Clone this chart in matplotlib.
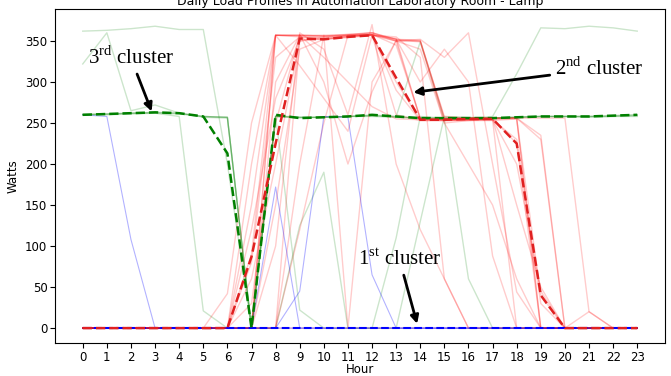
import numpy as np
import matplotlib
matplotlib.use("Agg")
import matplotlib.pyplot as plt

plt.rcParams['mathtext.fontset'] = 'custom'
plt.rcParams['mathtext.rm'] = 'Liberation Serif'

# Stunden
hours = list(range(24))

# 1. Cluster (blau)
blue_lines = [
    [260, 258, 108, 0, 0, 0, 0, 0, 0, 0, 0, 0, 0, 0, 0, 0, 0, 0, 0, 0, 0, 0, 0, 0],
    [0, 0, 0, 0, 0, 0, 0, 0, 0, 45, 258, 257, 65, 0, 0, 0, 0, 0, 0, 0, 0, 0, 0, 0],
    [0, 0, 0, 0, 0, 0, 0, 0, 172, 0, 0, 0, 0, 0, 0, 0, 0, 0, 0, 0, 0, 0, 0, 0],
]
blue_center = [0] * 24

# 2. Cluster (rot)
red_lines = [
    [0, 0, 0, 0, 0, 0, 42, 250, 357, 356, 356, 358, 360, 352, 350, 256, 256, 256, 256, 230, 0, 0, 0, 0],
    [0, 0, 0, 0, 0, 0, 0, 0, 357, 357, 357, 358, 360, 350, 350, 258, 256, 256, 256, 235, 0, 0, 0, 0],
    [0, 0, 0, 0, 0, 0, 0, 0, 357, 355, 354, 357, 358, 345, 256, 254, 254, 255, 256, 0, 0, 0, 0, 0],
    [0, 0, 0, 0, 0, 0, 0, 120, 280, 352, 352, 356, 357, 300, 254, 254, 255, 255, 255, 40, 0, 0, 0, 0],
    [0, 0, 0, 0, 0, 0, 0, 60, 200, 350, 353, 355, 358, 290, 253, 253, 254, 254, 200, 45, 0, 0, 0, 0],
    [0, 0, 0, 0, 0, 0, 0, 0, 150, 340, 352, 354, 357, 260, 253, 253, 254, 254, 230, 30, 0, 0, 0, 0],
    [0, 0, 0, 0, 0, 0, 0, 80, 330, 355, 352, 355, 357, 350, 340, 250, 253, 253, 255, 0, 0, 0, 0, 0],
    [0, 0, 0, 0, 0, 0, 0, 0, 0, 350, 355, 356, 358, 350, 255, 253, 253, 255, 225, 0, 0, 0, 0, 0],
    [0, 0, 0, 0, 0, 0, 0, 30, 250, 358, 300, 200, 288, 351, 349, 250, 200, 150, 60, 0, 0, 0, 0, 0],
    [0, 0, 0, 0, 0, 0, 0, 0, 100, 360, 340, 260, 370, 200, 120, 60, 0, 0, 0, 0, 0, 0, 0, 0],
    [0, 0, 0, 0, 0, 0, 0, 0, 0, 200, 357, 0, 300, 350, 352, 330, 360, 200, 44, 0, 0, 0, 0, 0],
    [0, 0, 0, 0, 0, 0, 0, 0, 0, 120, 250, 357, 360, 352, 300, 340, 300, 88, 0, 0, 0, 0, 0, 0],
    [0, 0, 0, 0, 0, 0, 0, 150, 357, 357, 356, 357, 357, 353, 255, 255, 255, 256, 256, 256, 256, 20, 0, 0],
    [0, 0, 0, 0, 0, 0, 0, 0, 0, 0, 0, 0, 0, 0, 0, 0, 0, 0, 0, 0, 0, 20, 0, 0],
    [0, 0, 0, 0, 0, 0, 0, 200, 357, 357, 356, 357, 358, 352, 351, 255, 255, 255, 150, 50, 0, 0, 0, 0],
    [0, 0, 0, 0, 0, 0, 0, 0, 300, 357, 330, 300, 270, 255, 254, 254, 254, 254, 0, 0, 0, 0, 0, 0],
    [0, 0, 0, 0, 0, 0, 0, 90, 357, 320, 280, 240, 357, 355, 330, 60, 0, 0, 0, 0, 0, 0, 0, 0],
]
red_center = [0, 0, 0, 0, 0, 0, 0, 87, 225, 353, 352, 355, 357, 305, 254, 254, 255, 255, 225, 40, 0, 0, 0, 0]

# 3. Cluster (gruen)
green_lines = [
    [362, 363, 365, 368, 364, 364, 200, 0, 258, 257, 257, 258, 258, 257, 256, 256, 256, 258, 310, 366, 365, 368, 366, 362],
    [322, 360, 265, 272, 262, 257, 256, 0, 259, 257, 257, 258, 260, 258, 256, 256, 256, 256, 257, 258, 258, 258, 259, 260],
    [260, 260, 261, 262, 258, 21, 0, 0, 258, 22, 0, 0, 0, 110, 258, 256, 256, 256, 257, 258, 258, 258, 258, 259],
    [260, 261, 262, 263, 262, 258, 257, 0, 0, 125, 190, 0, 0, 0, 130, 258, 257, 256, 257, 258, 258, 257, 258, 258],
    [261, 261, 262, 262, 261, 258, 257, 0, 258, 257, 257, 258, 259, 258, 349, 254, 60, 0, 0, 0, 0, 0, 0, 0],
    [260, 261, 262, 263, 262, 258, 257, 0, 258, 256, 257, 258, 259, 257, 256, 255, 255, 256, 257, 258, 258, 258, 259, 260],
]
green_center = [260, 261, 262, 263, 262, 258, 213, 0, 260, 256, 257, 258, 260, 258, 256, 256, 256, 256, 257, 258, 258, 258, 259, 260]

fig = plt.figure(figsize=(6.71, 3.76), dpi=100)
ax = fig.add_axes([0.082, 0.087, 0.909, 0.888])

for l in green_lines:
    ax.plot(hours, l, color='green', alpha=0.2, lw=1)
for l in red_lines:
    ax.plot(hours, l, color='red', alpha=0.2, lw=1)
for l in blue_lines:
    ax.plot(hours, l, color='blue', alpha=0.3, lw=0.8)

ax.plot(hours, blue_center, color='blue', ls='--', lw=1.5)
ax.plot(hours, green_center, color='green', ls='--', lw=1.8)
ax.plot(hours, red_center, color='#e02020', ls='--', lw=1.8)

ax.set_xticks(hours)
ax.tick_params(labelsize=8.5, pad=2)
ax.set_xlabel('Hour', fontsize=8.5, labelpad=-1)
ax.set_ylabel('Watts', fontsize=8.5)
ax.set_title('Daily Load Profiles in Automation Laboratory Room - Lamp', fontsize=9, pad=3)

# Beschriftungen der Cluster
pfeil = dict(arrowstyle='-|>', color='black', lw=2, mutation_scale=12)
ax.annotate(r'3$^{\mathrm{rd}}$ cluster', xy=(2.9, 261), xytext=(0.2, 330),
            fontsize=15, family='Liberation Serif', va='center', arrowprops=pfeil)
ax.annotate(r'2$^{\mathrm{nd}}$ cluster', xy=(13.6, 287), xytext=(19.6, 316),
            fontsize=15, family='Liberation Serif', va='center', arrowprops=pfeil)
ax.annotate(r'1$^{\mathrm{st}}$ cluster', xy=(13.9, 2), xytext=(11.4, 84),
            fontsize=15, family='Liberation Serif', va='center', arrowprops=pfeil)

plt.savefig('out.png')
